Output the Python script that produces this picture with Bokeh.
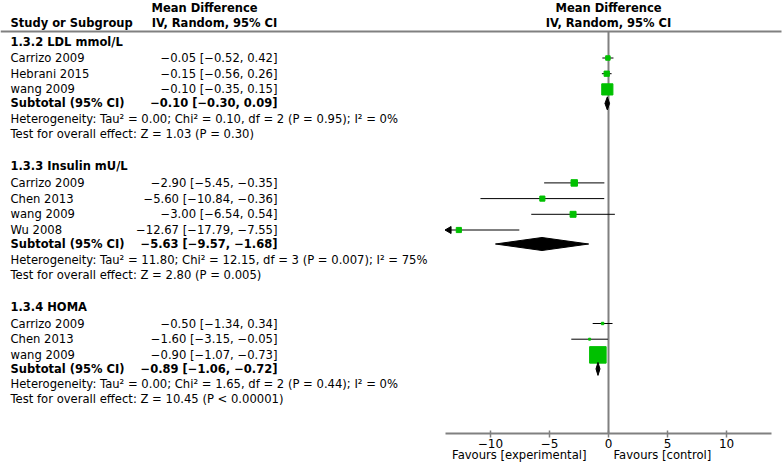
import math
from bokeh.plotting import figure
from bokeh.models import Range1d, LinearAxis, FixedTicker
from bokeh.core.properties import value
from bokeh.embed import file_html
from bokeh.resources import INLINE

# ---------------- data ----------------
group_titles = ["1.3.2 LDL mmol/L", "1.3.3 Insulin mU/L", "1.3.4 HOMA"]

ldl_studies = ["Carrizo 2009", "Hebrani 2015", "wang 2009"]
ldl_md = [-0.05, -0.15, -0.10]
ldl_lo = [-0.52, -0.56, -0.35]
ldl_hi = [0.42, 0.26, 0.15]
ldl_weight = [17.1, 22.4, 60.5]

insulin_studies = ["Carrizo 2009", "Chen 2013", "wang 2009", "Wu 2008"]
insulin_md = [-2.90, -5.60, -3.00, -12.67]
insulin_lo = [-5.45, -10.84, -6.54, -17.79]
insulin_hi = [-0.35, -0.36, 0.54, -7.55]
insulin_weight = [30.0, 21.4, 26.9, 21.7]

homa_studies = ["Carrizo 2009", "Chen 2013", "wang 2009"]
homa_md = [-0.50, -1.60, -0.90]
homa_lo = [-1.34, -3.15, -1.07]
homa_hi = [0.34, -0.05, -0.73]
homa_weight = [3.9, 1.1, 95.0]

subtotal_md = [-0.10, -5.63, -0.89]
subtotal_lo = [-0.30, -9.57, -1.06]
subtotal_hi = [0.09, -1.68, -0.72]

het_tau2 = ["0.00", "11.80", "0.00"]
het_chi2 = ["0.10", "12.15", "1.65"]
het_df = [2, 3, 2]
het_p = ["0.95", "0.007", "0.44"]
het_i2 = ["0%", "75%", "0%"]
test_z = ["1.03", "2.80", "10.45"]
test_p = ["= 0.30", "= 0.005", "< 0.00001"]

axis_ticks = [-10, -5, 0, 5, 10]
axis_tick_labels = ["\u221210", "\u22125", "0", "5", "10"]
axis_limit = 13.8

# ---------------- layout / style ----------------
FONT = "DejaVu Sans"
GREEN = "#00c000"
GREY = "#808080"
REG = "11.6px"
BOLD = "11.5px"
W, H = 784, 465
XR = (0, W)
YR = (H, 0)
AX_PX = (445, 771)     # where the effect axis sits
unit = (AX_PX[1] - AX_PX[0]) / (2 * axis_limit)
md_start = -axis_limit - (AX_PX[0] - XR[0]) / unit
md_end = axis_limit + (XR[1] - AX_PX[1]) / unit

p = figure(width=W, height=H, x_range=Range1d(*XR), y_range=Range1d(*YR),
           output_backend="svg", toolbar_location=None,
           x_axis_location=None, y_axis_location=None,
           min_border=0, outline_line_color=None)
p.grid.visible = False
p.extra_x_ranges = {"md": Range1d(md_start, md_end)}


def txt(x, y, s, align="left", bold=False, size=REG, rng="default"):
    p.text(x=[x], y=[y], text=[s], text_font=value(FONT),
           text_font_size=size, text_font_style="bold" if bold else "normal",
           text_align=align, text_baseline="middle", text_color="black",
           x_range_name=rng)


def fmt(v):
    return f"{v:.2f}".replace("-", "\u2212")


def ci_text(m, lo, hi):
    return f"{fmt(m)} [{fmt(lo)}, {fmt(hi)}]"


NAME_X = 10
CI_RIGHT = 277
HEADER_Y1, HEADER_Y2, RULE_Y = 7, 22, 31
AXIS_Y = 433

# headers
txt(204, HEADER_Y1, "Mean Difference", align="center", bold=True, size=BOLD)
txt(NAME_X, HEADER_Y2, "Study or Subgroup", bold=True, size=BOLD)
txt(214, HEADER_Y2, "IV, Random, 95% CI", align="center", bold=True, size=BOLD)
txt(0, HEADER_Y1, "Mean Difference", align="center", bold=True, size=BOLD, rng="md")
txt(0, HEADER_Y2, "IV, Random, 95% CI", align="center", bold=True, size=BOLD, rng="md")
p.segment(x0=[0], x1=[781], y0=[RULE_Y], y1=[RULE_Y], line_color=GREY, line_width=2)
p.segment(x0=[0], x1=[0], y0=[RULE_Y], y1=[AXIS_Y], line_color=GREY, line_width=2,
          x_range_name="md")

groups = [
    (ldl_studies, ldl_md, ldl_lo, ldl_hi, ldl_weight),
    (insulin_studies, insulin_md, insulin_lo, insulin_hi, insulin_weight),
    (homa_studies, homa_md, homa_lo, homa_hi, homa_weight),
]

HDR_TO_STUDY, STUDY_STEP, STUDY_TO_SUB = 16.5, 15.7, 14
SUB_TO_HET, HET_TO_TEST, TEST_TO_NEXT = 15.5, 15, 32.5
DIAMOND_HALF = 6.5

y = 41
for g, (names, md, lo, hi, wt) in enumerate(groups):
    txt(NAME_X, y, group_titles[g], bold=True, size=BOLD)
    ys = []
    for i in range(len(names)):
        y += HDR_TO_STUDY if i == 0 else STUDY_STEP
        ys.append(y)
        txt(NAME_X, y, names[i])
        txt(CI_RIGHT, y, ci_text(md[i], lo[i], hi[i]), align="right")
    # CI lines, clipped to axis, arrows when clipped
    x0 = [max(v, -axis_limit) for v in lo]
    x1 = [min(v, axis_limit) for v in hi]
    p.segment(x0=x0, x1=x1, y0=ys, y1=ys, line_color="black", line_width=1,
              x_range_name="md")
    for i in range(len(names)):
        if lo[i] < -axis_limit:
            p.scatter(x=[-axis_limit + 0.3], y=[ys[i]], marker="triangle", size=7,
                      angle=math.pi / 2, color="black", x_range_name="md")
        if hi[i] > axis_limit:
            p.scatter(x=[axis_limit - 0.3], y=[ys[i]], marker="triangle", size=7,
                      angle=-math.pi / 2, color="black", x_range_name="md")
    sizes = [1.8 + 0.155 * w for w in wt]
    p.scatter(x=md, y=ys, size=sizes, marker="square", color=GREEN, x_range_name="md")

    y += STUDY_TO_SUB
    txt(NAME_X, y, "Subtotal (95% CI)", bold=True, size=BOLD)
    txt(CI_RIGHT, y, ci_text(subtotal_md[g], subtotal_lo[g], subtotal_hi[g]),
        align="right", bold=True, size=BOLD)
    p.patches(xs=[[subtotal_lo[g], subtotal_md[g], subtotal_hi[g], subtotal_md[g]]],
              ys=[[y, y - DIAMOND_HALF, y, y + DIAMOND_HALF]],
              color="black", x_range_name="md")
    y += SUB_TO_HET
    txt(NAME_X, y, f"Heterogeneity: Tau\u00b2 = {het_tau2[g]}; Chi\u00b2 = {het_chi2[g]}, "
                   f"df = {het_df[g]} (P = {het_p[g]}); I\u00b2 = {het_i2[g]}")
    y += HET_TO_TEST
    txt(NAME_X, y, f"Test for overall effect: Z = {test_z[g]} (P {test_p[g]})")
    y += TEST_TO_NEXT

# effect axis
ax = LinearAxis(x_range_name="md", fixed_location=AXIS_Y,
                bounds=(-axis_limit, axis_limit),
                ticker=FixedTicker(ticks=axis_ticks),
                major_label_overrides={t: l for t, l in zip(axis_ticks, axis_tick_labels)})
ax.axis_line_color = GREY
ax.axis_line_width = 2
ax.major_tick_line_color = GREY
ax.major_tick_line_width = 1.5
ax.major_tick_in = 3
ax.major_tick_out = 4
ax.minor_tick_line_color = None
ax.major_label_text_font = FONT
ax.major_label_text_font_size = "12px"
ax.major_label_text_color = "black"
ax.major_label_standoff = 1
p.add_layout(ax, "below")

txt(586, 454, "Favours [experimental]", align="right")
txt(613, 454, "Favours [control]", align="left")

open("out.html", "w").write(file_html(p, INLINE))
